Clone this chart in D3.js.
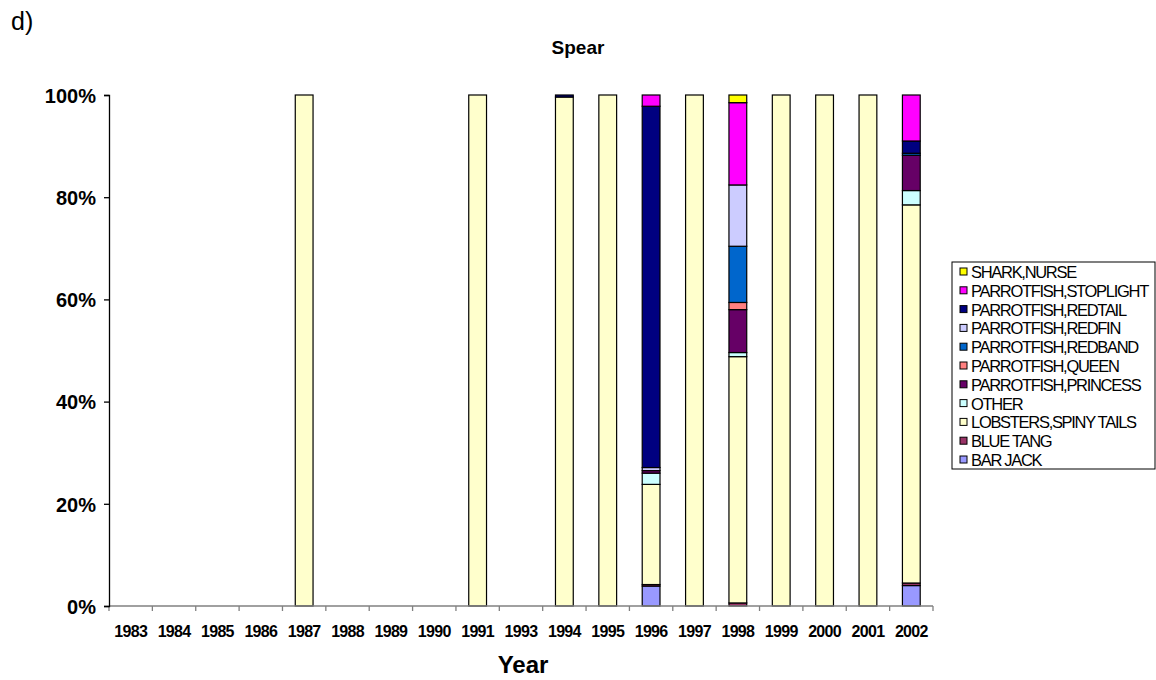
<!DOCTYPE html>
<html>
<head>
<meta charset="utf-8">
<script src="https://cdn.jsdelivr.net/npm/d3@7"></script>
<style>
  body { margin: 0; background: #fff; }
  svg { font-family: Arial, "Liberation Sans", sans-serif; }
</style>
</head>
<body>
<svg id="chart" width="1156" height="680"></svg>
<script>
// categories along the x axis
var years = ["1983", "1984", "1985", "1986", "1987", "1988", "1989", "1990", "1991", "1993",
             "1994", "1995", "1996", "1997", "1998", "1999", "2000", "2001", "2002"];

// stack order, bottom to top
var species = ["BAR JACK", "BLUE TANG", "LOBSTERS,SPINY TAILS", "OTHER", "PARROTFISH,PRINCESS",
               "PARROTFISH,QUEEN", "PARROTFISH,REDBAND", "PARROTFISH,REDFIN", "PARROTFISH,REDTAIL",
               "PARROTFISH,STOPLIGHT", "SHARK,NURSE"];
var colors = ["#9999FF", "#993366", "#FFFFCC", "#CCFFFF", "#660066",
              "#FF8080", "#0066CC", "#CCCCFF", "#000080", "#FF00FF", "#FFFF00"];

// percent of catch per year, one array per species (same order as years)
var barJack    = [0,0,0,0,0,0,0,0,0,0, 0,0,3.9,0,0,0,0,0,4.0];
var blueTang   = [0,0,0,0,0,0,0,0,0,0, 0,0,0.3,0,0.6,0,0,0,0.5];
var lobsters   = [0,0,0,0,100,0,0,0,100,0, 99.6,100,19.6,100,48.2,100,100,100,74.0];
var other      = [0,0,0,0,0,0,0,0,0,0, 0,0,2.2,0,0.8,0,0,0,2.8];
var princess   = [0,0,0,0,0,0,0,0,0,0, 0,0,0.5,0,8.4,0,0,0,6.9];
var queen      = [0,0,0,0,0,0,0,0,0,0, 0,0,0,0,1.4,0,0,0,0];
var redband    = [0,0,0,0,0,0,0,0,0,0, 0,0,0,0,11.0,0,0,0,0.4];
var redfin     = [0,0,0,0,0,0,0,0,0,0, 0,0,0.6,0,12.0,0,0,0,0];
var redtail    = [0,0,0,0,0,0,0,0,0,0, 0.4,0,70.7,0,0,0,0,0,2.4];
var stoplight  = [0,0,0,0,0,0,0,0,0,0, 0,0,2.2,0,16.1,0,0,0,9.0];
var sharkNurse = [0,0,0,0,0,0,0,0,0,0, 0,0,0,0,1.5,0,0,0,0];

var seriesValues = [barJack, blueTang, lobsters, other, princess, queen,
                    redband, redfin, redtail, stoplight, sharkNurse];

var yTicks = [0, 20, 40, 60, 80, 100];

var rows = years.map(function (yr, i) {
    var r = { year: yr };
    species.forEach(function (s, j) { r[s] = seriesValues[j][i]; });
    return r;
});

var svg = d3.select("#chart");
var margin = { top: 95, left: 109, right: 223, bottom: 74 };
var width = 1156 - margin.left - margin.right,
    height = 680 - margin.top - margin.bottom;

var g = svg.append("g").attr("transform", "translate(" + margin.left + "," + margin.top + ")");

var x = d3.scaleBand().domain(years).range([0, width]).paddingInner(0.59).paddingOuter(0.295);
var y = d3.scaleLinear().domain([0, 100]).range([height, 0]);

var stack = d3.stack().keys(species);
var layers = stack(rows);

g.selectAll("g.layer")
    .data(layers)
    .enter().append("g")
    .attr("class", "layer")
    .attr("fill", function (d, i) { return colors[i]; })
    .selectAll("rect")
    .data(function (d) { return d.filter(function (p) { return p[1] - p[0] > 0; }); })
    .enter().append("rect")
    .attr("x", function (d) { return x(d.data.year); })
    .attr("width", x.bandwidth())
    .attr("y", function (d) { return y(d[1]); })
    .attr("height", function (d) { return y(d[0]) - y(d[1]); })
    .attr("stroke", "#000")
    .attr("stroke-width", 1.2);

// x axis: ticks at the band boundaries
var xAxis = g.append("g").attr("transform", "translate(0," + height + ")");
xAxis.append("line")
    .attr("x1", 0).attr("x2", width)
    .attr("stroke", "#808080").attr("stroke-width", 1.3);
var step = x.step();
d3.range(years.length + 1).forEach(function (i) {
    xAxis.append("line")
        .attr("x1", i * step).attr("x2", i * step)
        .attr("y1", 0).attr("y2", 5)
        .attr("stroke", "#808080").attr("stroke-width", 1.3);
});
xAxis.selectAll("text.year")
    .data(years)
    .enter().append("text")
    .attr("class", "year")
    .attr("x", function (d) { return x(d) + x.bandwidth() / 2; })
    .attr("y", 31)
    .attr("text-anchor", "middle")
    .attr("font-size", "16px")
    .attr("font-weight", "bold")
    .attr("letter-spacing", "-0.7px")
    .text(function (d) { return d; });

// y axis
var yAxis = g.append("g")
    .call(d3.axisLeft(y).tickValues(yTicks).tickSize(5).tickFormat(function (d) { return d + "%"; }));
yAxis.select(".domain").attr("stroke", "#000").attr("stroke-width", 1.3);
yAxis.selectAll(".tick line").attr("stroke", "#000").attr("stroke-width", 1.3);
yAxis.selectAll(".tick text")
    .attr("x", -13)
    .attr("dy", "0.36em")
    .attr("font-size", "20px")
    .attr("font-weight", "bold")
    .attr("font-family", "Arial, 'Liberation Sans', sans-serif")
    .attr("fill", "#000");

// titles
svg.append("text")
    .attr("x", 578).attr("y", 54)
    .attr("text-anchor", "middle")
    .attr("font-size", "19px").attr("font-weight", "bold")
    .text("Spear");
svg.append("text")
    .attr("x", 11).attr("y", 30)
    .attr("font-size", "25px")
    .text("d)");
svg.append("text")
    .attr("x", 523).attr("y", 673)
    .attr("text-anchor", "middle")
    .attr("font-size", "24px").attr("font-weight", "bold")
    .text("Year");

// legend, top entry is the top of the stack
var legend = svg.append("g").attr("transform", "translate(952,262)");
legend.append("rect")
    .attr("width", 203).attr("height", 207)
    .attr("fill", "#fff").attr("stroke", "#000").attr("stroke-width", 1);
var legendOrder = species.slice().reverse();
var legendColors = colors.slice().reverse();
var item = legend.selectAll("g.item")
    .data(legendOrder)
    .enter().append("g")
    .attr("class", "item")
    .attr("transform", function (d, i) { return "translate(0," + (10 + i * 18.8) + ")"; });
item.append("rect")
    .attr("x", 8).attr("y", -4)
    .attr("width", 7).attr("height", 7)
    .attr("fill", function (d, i) { return legendColors[i]; })
    .attr("stroke", "#000").attr("stroke-width", 1);
item.append("text")
    .attr("x", 19).attr("y", 6)
    .attr("font-size", "16.5px")
    .attr("letter-spacing", "-1.3px")
    .text(function (d) { return d; });
</script>
</body>
</html>
